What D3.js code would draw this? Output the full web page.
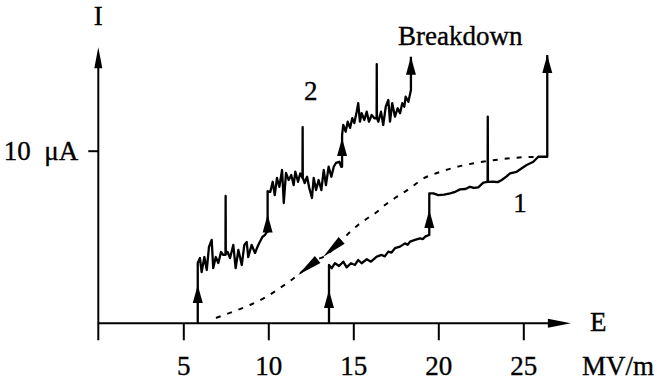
<!DOCTYPE html>
<html>
<head>
<meta charset="utf-8">
<script src="https://cdn.jsdelivr.net/npm/d3@7"></script>
<style>
  body { margin: 0; background: #fff; }
  svg text { font-family: "Liberation Serif", "Times New Roman", serif; fill: #000; stroke: #000; stroke-width: 0.35px; white-space: pre; }
</style>
</head>
<body>
<div id="chart"></div>
<script>
// E (MV/m) vs I (uA)
const xTicks = [5, 10, 15, 20, 25];
const yTicks = [10];
const yTickLabels = ["10  \u03BCA"];

// curve 2 : noisy, three steps, ends in breakdown
const curve2 = [
  [5.85,0],[5.85,3.49],[5.98,3.78],[6.08,2.97],[6.24,3.84],[6.38,3.09],[6.51,4.42],[6.67,4.83],[6.76,3.20],
  [6.91,3.84],[7.06,3.49],[7.22,4.13],[7.35,3.96],[7.48,3.96],[7.49,7.38],[7.50,4.0],[7.61,4.13],[7.75,3.78],
  [7.94,4.54],[8.08,3.20],[8.24,4.25],[8.44,3.38],[8.59,4.54],[8.73,4.71],[8.82,3.84],[9.02,4.54],[9.22,4.07],
  [9.41,4.54],[9.65,5.00],[9.81,5.12],[9.91,5.29],[9.96,5.29],[9.96,7.65],
  [10.12,7.62],[10.26,8.20],[10.38,7.43],[10.51,8.42],[10.65,7.91],[10.81,8.88],[10.91,6.97],[11.04,8.71],
  [11.20,8.30],[11.35,8.59],[11.49,8.01],[11.59,8.78],[11.75,8.20],[11.88,8.69],[12.01,8.42],[12.02,11.37],
  [12.03,8.42],[12.14,8.13],[12.28,8.49],[12.41,7.84],[12.57,7.26],[12.67,8.42],[12.81,7.72],[12.96,8.30],
  [13.12,7.72],[13.26,8.88],[13.39,8.01],[13.55,9.07],[13.71,8.49],[13.85,9.07],[13.98,9.29],[14.18,9.36],
  [14.29,9.07],[14.34,9.07],[14.34,10.9],
  [14.41,11.49],[14.55,11.10],[14.67,11.68],[14.81,11.32],[14.94,11.89],[15.06,11.60],[15.20,12.26],[15.29,12.75],
  [15.39,11.68],[15.49,12.17],[15.65,11.78],[15.79,12.26],[15.92,11.68],[16.08,12.07],[16.24,11.88],[16.37,11.89],
  [16.38,15.02],[16.39,11.89],[16.47,11.68],[16.63,12.26],[16.76,11.49],[16.91,12.55],[17.06,12.94],[17.16,11.68],
  [17.29,12.75],[17.45,11.97],[17.61,12.46],[17.75,12.17],[17.88,12.75],[18.00,12.55],[18.08,13.13],[18.24,12.84],
  [18.39,13.52],[18.39,15.45]
];

// curve 1 : smoother, one step
const curve1 = [
  [13.57,0],[13.57,3.38],[13.73,3.19],[13.92,3.48],[14.16,3.32],[14.41,3.57],[14.61,3.24],[14.86,3.48],[15.10,3.38],
  [15.29,3.67],[15.49,3.48],[15.79,3.71],[16.04,3.57],[16.38,3.86],[16.67,3.96],[16.85,3.88],[17.06,4.15],[17.25,4.10],
  [17.45,4.35],[17.75,4.44],[18.04,4.63],[18.20,4.55],[18.34,4.73],[18.63,4.83],[18.92,4.92],[19.10,4.88],[19.22,5.02],
  [19.47,5.12],[19.47,7.53],[19.71,7.53],[20.00,7.43],[20.35,7.45],[20.69,7.53],[21.0,7.62],[21.28,7.76],[21.6,7.78],
  [21.86,7.91],[22.10,7.85],[22.35,7.88],[22.65,8.15],[22.90,8.19],[22.91,11.97],[22.92,8.19],[23.24,8.20],[23.50,8.18],
  [23.73,8.30],[24.0,8.50],[24.22,8.69],[24.61,8.78],[24.91,8.98],[25.20,9.17],[25.59,9.36],[25.88,9.65],[26.41,9.65],
  [26.41,15.54]
];

// dotted return path
const dotted = [
  [6.92,0.31],[7.86,0.65],[8.92,1.06],[9.86,1.52],[10.69,2.05],[11.28,2.45],[11.75,2.80],[12.93,3.72],[13.22,3.84],
  [14.34,4.83],[14.81,5.29],[15.28,5.70],[15.86,6.10],[16.39,6.45],[16.86,6.85],[17.45,7.26],[17.92,7.55],[18.51,7.95],
  [18.98,8.30],[20.10,8.77],[21.10,9.06],[22.16,9.29],[23.34,9.46],[24.40,9.58],[25.40,9.64],[26.40,9.64]
];

// arrow tips on the step lines (pointing up)
const upArrows = [[5.85,2.22],[9.96,6.3],[14.34,10.74],[18.39,15.45],[13.57,1.93],[19.47,6.56],[26.41,15.54]];
// arrow heads on the dotted path: tip E, tip I, tail E, tail I
const dotArrows = [[11.75,2.80,12.93,3.72],[13.22,3.84,14.34,4.83]];

const svg = d3.select("#chart").append("svg")
    .attr("width", 657)
    .attr("height", 381);

const x = d3.scaleLinear().domain([0, 28]).range([98.3, 98.3 + 28 * 17]);
const y = d3.scaleLinear().domain([0, 16]).range([323.3, 323.3 - 16 * 17.26]);

function arrowHead(tx, ty, dx, dy, len, wid) {
    const n = Math.hypot(dx, dy), ux = dx / n, uy = dy / n;
    const bx = tx - ux * len, by = ty - uy * len;
    const px = -uy * wid / 2, py = ux * wid / 2;
    return `M${tx},${ty}L${bx + px},${by + py}L${bx - px},${by - py}Z`;
}

// axes
const xAxis = svg.append("g")
    .attr("transform", `translate(0,${y(0)})`)
    .call(d3.axisBottom(x).tickValues(xTicks).tickSize(17).tickPadding(16));
xAxis.select(".domain").remove();
xAxis.selectAll(".tick line").attr("stroke", "#000").attr("stroke-width", 2);
xAxis.selectAll(".tick text").style("font-size", "27px");

const yAxis = svg.append("g")
    .attr("transform", `translate(${x(0)},0)`)
    .call(d3.axisLeft(y).tickValues(yTicks).tickSize(10).tickPadding(10)
        .tickFormat((d, i) => yTickLabels[i]));
yAxis.select(".domain").remove();
yAxis.selectAll(".tick line").attr("stroke", "#000").attr("stroke-width", 2);
yAxis.selectAll(".tick text").style("font-size", "27px");

svg.append("line")
    .attr("x1", x(0)).attr("x2", x(27.8) - 10)
    .attr("y1", y(0)).attr("y2", y(0))
    .attr("stroke", "#000").attr("stroke-width", 2);
svg.append("path").attr("d", arrowHead(x(27.8), y(0), 1, 0, 23, 9));

svg.append("line")
    .attr("x1", x(0)).attr("x2", x(0))
    .attr("y1", y(0) + 17).attr("y2", y(16) + 10)
    .attr("stroke", "#000").attr("stroke-width", 2);
svg.append("path").attr("d", arrowHead(x(0), y(16), 0, -1, 21, 8));

// curves
const line = d3.line().x(d => x(d[0])).y(d => y(d[1]));

svg.append("path")
    .datum(dotted)
    .attr("d", line.curve(d3.curveMonotoneX))
    .attr("fill", "none")
    .attr("stroke", "#000")
    .attr("stroke-width", 2)
    .attr("stroke-dasharray", "5,7");

line.curve(d3.curveLinear);
[curve2, curve1].forEach(c => {
    svg.append("path")
        .datum(c)
        .attr("d", line)
        .attr("fill", "none")
        .attr("stroke", "#000")
        .attr("stroke-width", 2.3)
        .attr("stroke-linejoin", "round");
});

svg.selectAll(".up-arrow").data(upArrows).enter().append("path")
    .attr("class", "up-arrow")
    .attr("d", d => arrowHead(x(d[0]), y(d[1]), 0, -1, 18, 10));

svg.selectAll(".dot-arrow").data(dotArrows).enter().append("path")
    .attr("class", "dot-arrow")
    .attr("d", d => arrowHead(x(d[0]), y(d[1]), x(d[0]) - x(d[2]), y(d[1]) - y(d[3]), 25, 9));

// labels
svg.append("text").attr("x", x(0)).attr("y", 25)
    .attr("text-anchor", "middle").style("font-size", "27px").text("I");
svg.append("text").attr("x", 590).attr("y", 331)
    .style("font-size", "27px").text("E");
svg.append("text").attr("x", 582).attr("y", 375)
    .style("font-size", "27px").text("MV/m");
svg.append("text").attr("x", x(17.63)).attr("y", y(16.12))
    .style("font-size", "27px").text("Breakdown");
svg.append("text").attr("x", x(12.5)).attr("y", y(12.94))
    .attr("text-anchor", "middle").style("font-size", "27px").text("2");
svg.append("text").attr("x", x(24.8)).attr("y", y(6.45))
    .attr("text-anchor", "middle").style("font-size", "27px").text("1");
</script>
</body>
</html>
